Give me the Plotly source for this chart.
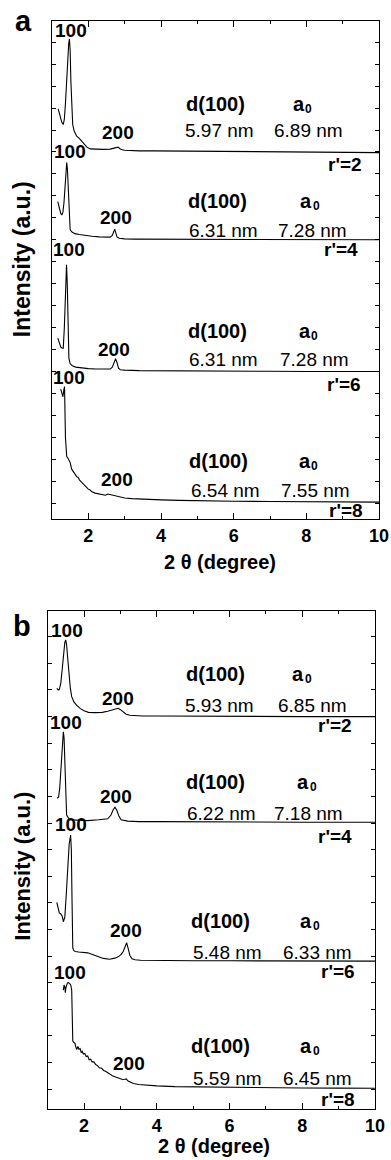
import plotly.graph_objects as go

W, H = 391, 1160
FONT = "Liberation Sans, Arial, Helvetica, sans-serif"

# ---------------- DATA ----------------
# Panel a
a_r2_theta = [1.17, 1.22, 1.27, 1.31, 1.34, 1.37, 1.40, 1.43, 1.46, 1.48, 1.50, 1.52, 1.545, 1.57, 1.61, 1.68, 1.75,
              1.82, 1.89, 1.96, 2.05, 2.2, 2.4, 2.6, 2.7, 2.76, 2.82, 2.87, 2.93, 3.0, 3.15, 3.4, 3.8, 4.5, 5.5,
              6.5, 7.5, 8.5, 9.3, 10.0]
a_r2_int = [17.96, 17.65, 17.35, 17.25, 17.5, 18.2, 19.2, 20.2, 20.95, 21.15, 20.6, 19.2, 17.8, 17.25, 16.95, 16.72,
            16.62, 16.5, 16.35, 16.22, 16.14, 16.12, 16.12, 16.13, 16.17, 16.22, 16.22, 16.15, 16.10, 16.08, 16.06,
            16.05, 16.05, 16.04, 16.03, 16.01, 15.99, 15.98, 15.97, 15.97]

a_r4_theta = [1.16, 1.20, 1.24, 1.27, 1.30, 1.33, 1.36, 1.385, 1.405, 1.425, 1.45, 1.475, 1.50, 1.55, 1.63, 1.75,
              1.9, 2.1, 2.3, 2.5, 2.6, 2.66, 2.70, 2.725, 2.75, 2.79, 2.85, 3.0, 3.3, 4.0, 5.0, 6.0, 7.0, 8.0, 9.0,
              10.0]
a_r4_int = [13.74, 13.45, 13.2, 13.13, 13.25, 13.7, 14.5, 15.2, 15.52, 15.2, 14.0, 12.9, 12.45, 12.35, 12.28, 12.24,
            12.2, 12.16, 12.13, 12.11, 12.12, 12.2, 12.38, 12.48, 12.35, 12.13, 12.07, 12.04, 12.03, 12.03, 12.02,
            12.01, 12.01, 12.0, 12.0, 12.0]

a_r6_theta = [1.16, 1.20, 1.24, 1.28, 1.31, 1.34, 1.37, 1.40, 1.42, 1.445, 1.465, 1.50, 1.56, 1.65, 1.8, 2.0, 2.2,
              2.4, 2.6, 2.66, 2.71, 2.75, 2.79, 2.83, 2.88, 3.0, 3.4, 4.0, 5.0, 6.0, 7.0, 8.0, 9.0, 10.0]
a_r6_int = [7.52, 7.3, 7.12, 7.06, 7.06, 8.0, 9.6, 10.86, 10.0, 8.0, 6.6, 6.35, 6.26, 6.2, 6.16, 6.13, 6.11, 6.10,
            6.11, 6.2, 6.45, 6.58, 6.4, 6.15, 6.08, 6.06, 6.04, 6.03, 6.02, 6.01, 6.01, 6.0, 6.0, 6.0]

a_r8_theta = [1.24, 1.27, 1.30, 1.325, 1.345, 1.37, 1.405, 1.44, 1.468, 1.50, 1.542, 1.58, 1.62, 1.68, 1.72, 1.76,
              1.818, 1.86, 1.90, 1.95, 1.999, 2.05, 2.10, 2.184, 2.25, 2.32, 2.40, 2.47, 2.54, 2.60, 2.66, 2.734,
              2.85, 3.0, 3.2, 3.5, 4.0, 4.5, 5.0, 6.0, 7.0, 8.0, 9.0, 10.0]
a_r8_int = [5.2, 5.05, 4.85, 5.15, 5.31, 3.0, 2.12, 2.05, 1.97, 1.85, 1.55, 1.48, 1.36, 1.21, 1.17, 1.05, 0.94, 0.88,
            0.82, 0.72, 0.64, 0.60, 0.52, 0.46, 0.44, 0.40, 0.37, 0.36, 0.42, 0.40, 0.35, 0.33, 0.29, 0.24, 0.21,
            0.18, 0.15, 0.13, 0.11, 0.09, 0.08, 0.07, 0.06, 0.05]

# Panel b
b_r2_theta = [1.25, 1.29, 1.32, 1.36, 1.40, 1.44, 1.47, 1.495, 1.52, 1.55, 1.58, 1.62, 1.66, 1.72, 1.80, 1.90, 2.0,
              2.12, 2.3, 2.5, 2.65, 2.78, 2.88, 2.94, 3.0, 3.08, 3.16, 3.26, 3.4, 3.6, 4.0, 5.0, 6.0, 7.0, 8.0, 9.0,
              10.0]
b_r2_int = [15.06, 15.0, 15.02, 15.25, 15.8, 16.4, 16.78, 16.88, 16.7, 16.2, 15.6, 15.1, 14.75, 14.55, 14.42, 14.3,
            14.22, 14.16, 14.15, 14.16, 14.2, 14.26, 14.3, 14.31, 14.26, 14.16, 14.09, 14.05, 14.03, 14.02, 14.02,
            14.01, 14.01, 14.01, 14.0, 14.0, 14.0]

b_r4_theta = [1.26, 1.30, 1.33, 1.36, 1.39, 1.41, 1.43, 1.45, 1.47, 1.49, 1.52, 1.6, 1.8, 2.1, 2.4, 2.65, 2.74, 2.80,
              2.85, 2.90, 2.96, 3.02, 3.2, 3.5, 4.0, 5.0, 6.0, 7.0, 8.0, 9.0, 10.0]
b_r4_int = [10.93, 10.98, 11.3, 11.9, 12.7, 13.2, 13.43, 13.2, 12.4, 11.3, 10.3, 10.12, 10.1, 10.09, 10.12, 10.16,
            10.3, 10.5, 10.59, 10.48, 10.25, 10.12, 10.07, 10.05, 10.05, 10.04, 10.04, 10.03, 10.03, 10.03, 10.03]

b_r6_theta = [1.25, 1.28, 1.32, 1.36, 1.40, 1.43, 1.47, 1.51, 1.55, 1.59, 1.63, 1.65, 1.67, 1.69, 1.72, 1.76, 1.85,
              1.98, 2.1, 2.25, 2.4, 2.53, 2.7, 2.85, 2.95, 3.02, 3.08, 3.13, 3.17, 3.21, 3.26, 3.32, 3.4, 3.55, 4.0,
              5.0, 6.0, 7.0, 8.0, 9.0, 10.0]
b_r6_int = [7.02, 6.8, 6.62, 6.58, 6.5, 6.29, 6.45, 7.3, 8.4, 9.2, 9.55, 9.0, 7.0, 5.3, 5.2, 5.17, 5.15, 5.14, 5.12,
            5.05, 4.97, 4.91, 4.88, 4.92, 4.98, 5.06, 5.18, 5.38, 5.5, 5.3, 5.02, 4.9, 4.86, 4.84, 4.83, 4.82, 4.82,
            4.82, 4.81, 4.81, 4.81]

b_r8_theta = [1.43, 1.45, 1.47, 1.485, 1.50, 1.52, 1.54, 1.57, 1.60, 1.63, 1.66, 1.675, 1.69, 1.72, 1.75, 1.78,
              1.80, 1.83, 1.86, 1.89, 1.92, 1.95, 1.98, 2.02, 2.06, 2.10, 2.14, 2.18, 2.22, 2.27, 2.32, 2.37, 2.42,
              2.48, 2.54, 2.60, 2.66, 2.72, 2.78, 2.85, 2.92, 2.99, 3.06, 3.12, 3.16, 3.21, 3.28, 3.36, 3.5, 3.7,
              4.0, 4.5, 5.0, 6.0, 7.0, 8.0, 9.0, 10.0]
b_r8_int = [3.72, 3.91, 3.85, 3.62, 3.8, 3.93, 3.98, 4.0, 3.98, 3.93, 3.72, 2.8, 1.8, 1.75, 1.72, 1.55, 1.49, 1.6,
            1.5, 1.52, 1.38, 1.42, 1.32, 1.34, 1.22, 1.24, 1.1, 1.12, 1.02, 1.02, 0.92, 0.88, 0.80, 0.78, 0.70,
            0.66, 0.60, 0.56, 0.50, 0.46, 0.42, 0.37, 0.36, 0.37, 0.38, 0.30, 0.25, 0.21, 0.17, 0.14, 0.12, 0.09,
            0.08, 0.06, 0.05, 0.04, 0.035, 0.03]

ratios = ["r'=2", "r'=4", "r'=6", "r'=8"]
a_d100 = ["5.97 nm", "6.31 nm", "6.31 nm", "6.54 nm"]
a_a0 = ["6.89 nm", "7.28 nm", "7.28 nm", "7.55 nm"]
b_d100 = ["5.93 nm", "6.22 nm", "5.48 nm", "5.59 nm"]
b_a0 = ["6.85 nm", "7.18 nm", "6.33 nm", "6.45 nm"]
x_ticks = [2, 4, 6, 8, 10]

# ---------------- LAYOUT (pixel positions) ----------------
A_BOX = dict(left=52, right=379, top=20.7, bottom=519)
B_BOX = dict(left=47.7, right=375, top=610.7, bottom=1109)

pos = {
    "a": dict(p100=[(71, 30.7), (69.7, 151.7), (69.2, 250), (69.2, 377.3)],
              p200=[(118.3, 132.7), (116.2, 217.7), (114, 349), (116.7, 480)],
              dlab=[(215.3, 104), (217.5, 200.7), (217.5, 331), (218.3, 461)],
              alab=[(290.7, 104), (298, 200.7), (296.7, 331), (296.7, 461)],
              dval=[(219.5, 130.7), (223, 230), (223, 360), (225, 490)],
              aval=[(308.7, 130.7), (312, 230), (314.5, 360), (315.5, 490)],
              rlab=[(364, 164.3), (360, 250), (362.7, 385), (365, 510)],
              letter=(23, 21), ytitle=(21.7, 259.5, 23), xtitle=(220, 562)),
    "b": dict(p100=[(67, 630.5), (66, 722), (70.6, 825), (70.3, 972.7)],
              p200=[(118, 698.3), (116, 796.2), (125.8, 930.5), (129.3, 1063.3)],
              dlab=[(215.3, 674), (215.3, 781.7), (220.2, 921), (220.2, 1046)],
              alab=[(290, 674), (295, 781.7), (298.3, 921), (298.3, 1046)],
              dval=[(219.5, 705), (221.7, 813.3), (227.2, 952.5), (227.2, 1078.3)],
              aval=[(312.8, 705), (308.8, 813.3), (317.2, 952.5), (317.5, 1078.3)],
              rlab=[(354, 725), (354, 836.7), (356.7, 971.7), (356.7, 1099.3)],
              letter=(22, 626), ytitle=(21.7, 866, 22), xtitle=(214, 1146)),
}

fig = go.Figure()
series_a = [(a_r2_theta, a_r2_int), (a_r4_theta, a_r4_int), (a_r6_theta, a_r6_int), (a_r8_theta, a_r8_int)]
series_b = [(b_r2_theta, b_r2_int), (b_r4_theta, b_r4_int), (b_r6_theta, b_r6_int), (b_r8_theta, b_r8_int)]
for xs, ys in series_a:
    fig.add_trace(go.Scatter(x=xs, y=ys, mode="lines", line=dict(color="black", width=1.1),
                             xaxis="x", yaxis="y", showlegend=False, hoverinfo="skip"))
for xs, ys in series_b:
    fig.add_trace(go.Scatter(x=xs, y=ys, mode="lines", line=dict(color="black", width=1.1),
                             xaxis="x2", yaxis="y2", showlegend=False, hoverinfo="skip"))


def dom_x(b):
    return [b["left"] / W, b["right"] / W]


def dom_y(b):
    return [1 - b["bottom"] / H, 1 - b["top"] / H]


def xaxis_cfg(box, anchor):
    return dict(domain=dom_x(box), range=[1, 10], anchor=anchor, tickvals=x_ticks,
                ticks="inside", ticklen=6, tickwidth=1.2, tickcolor="black",
                minor=dict(dtick=1, tick0=1, ticks="inside", ticklen=3, tickwidth=1.2, tickcolor="black"),
                showline=True, linecolor="black", linewidth=1.4, mirror="ticks",
                showgrid=False, zeroline=False, automargin=False,
                tickfont=dict(family=FONT, size=18, color="black", weight="bold"))


def yaxis_cfg(box, anchor, rng, nt):
    return dict(domain=dom_y(box), range=rng, anchor=anchor, tickvals=list(range(nt)),
                ticks="inside", ticklen=4, tickwidth=1.1, tickcolor="black", showticklabels=False,
                showline=True, linecolor="black", linewidth=1.4, mirror="ticks",
                showgrid=False, zeroline=False, automargin=False)


annotations = []


def lab(px, py, text, size, bold=True, xanchor="center", angle=0):
    annotations.append(dict(x=px / W, y=1 - py / H, xref="paper", yref="paper", text=text,
                            showarrow=False, xanchor=xanchor, yanchor="middle", textangle=angle,
                            font=dict(family=FONT, size=size, color="black",
                                      weight="bold" if bold else "normal")))


for key, dvals, avals, letter in (("a", a_d100, a_a0, "a"), ("b", b_d100, b_a0, "b")):
    p = pos[key]
    for i in range(4):
        lab(*p["p100"][i], "100", 19)
        lab(*p["p200"][i], "200", 19)
        lab(*p["dlab"][i], "d(100)", 20)
        ax, ay = p["alab"][i]
        lab(ax, ay, "a", 20, xanchor="left")
        lab(ax + 12.5, ay + 5, "0", 12, xanchor="left")
        lab(*p["dval"][i], dvals[i], 19, bold=False)
        lab(*p["aval"][i], avals[i], 19, bold=False)
        lab(*p["rlab"][i], ratios[i], 19, xanchor="right")
    lab(*p["letter"], letter, 29)
    tx, ty, ts = p["ytitle"]
    lab(tx, ty, "Intensity (a.u.)", ts, angle=-90)
    lab(*p["xtitle"], "2 θ (degree)", 20)

fig.update_layout(
    width=W, height=H, autosize=False,
    margin=dict(l=0, r=0, t=0, b=0),
    paper_bgcolor="white", plot_bgcolor="white",
    xaxis=xaxis_cfg(A_BOX, "y"),
    yaxis=yaxis_cfg(A_BOX, "x", [-0.72, 21.98], 22),
    xaxis2=xaxis_cfg(B_BOX, "y2"),
    yaxis2=yaxis_cfg(B_BOX, "x2", [-0.75, 17.98], 18),
    annotations=annotations,
    showlegend=False,
)

fig.write_html("out.html", config={"displayModeBar": False},
               post_script="document.body.style.margin='0';document.body.style.overflow='hidden';")
